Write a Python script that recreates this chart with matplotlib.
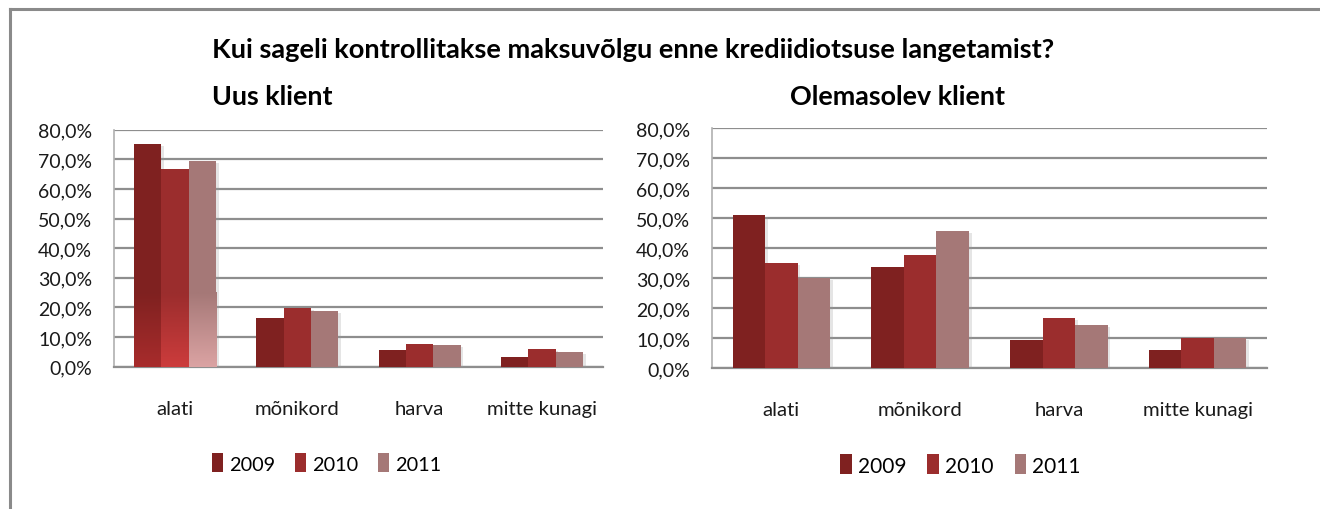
import numpy as np
import matplotlib
matplotlib.use("Agg")
import matplotlib.pyplot as plt
from matplotlib.patches import Patch
from matplotlib.colors import to_rgb
from matplotlib.ticker import FuncFormatter, MultipleLocator
import matplotlib.patheffects as pe

plt.rcParams.update({
    "font.family": ["Lato", "DejaVu Sans"],
    "font.size": 14,
    "figure.facecolor": "white",
    "axes.facecolor": "white",
})

title = "Kui sageli kontrollitakse maksuvõlgu enne krediidiotsuse langetamist?"
categories = ["alati", "mõnikord", "harva", "mitte kunagi"]
years = ["2009", "2010", "2011"]

# values, in percent
uus_2009 = [75.3, 16.5, 5.7, 3.4]
uus_2010 = [66.9, 19.9, 7.8, 6.1]
uus_2011 = [69.6, 18.9, 7.4, 5.1]
ole_2009 = [51.0, 33.7, 9.3, 6.0]
ole_2010 = [35.0, 37.7, 16.7, 10.0]
ole_2011 = [29.9, 45.7, 14.3, 10.0]

colors = ["#7f2120", "#9b2d2d", "#a57877"]
light = ["#a82c2c", "#cc3c3c", "#dba3a3"]
grid_c = "#8e8e8e"

W, H = 1320, 510
fig = plt.figure(figsize=(W / 100, H / 100), dpi=100)


def frac(x0, y0, x1, y1):
    return [x0 / W, 1 - y1 / H, (x1 - x0) / W, (y1 - y0) / H]


def gradient_bar(ax, bar, c_top, c_bot, level):
    # lighter fill towards the bottom of tall bars
    x = bar.get_x()
    w = bar.get_width()
    t = np.linspace(0, 1, 64)[:, None, None]
    a = np.array(to_rgb(c_bot))[None, None, :]
    b = np.array(to_rgb(c_top))[None, None, :]
    img = np.repeat(a * (1 - t) + b * t, 2, axis=1)
    im = ax.imshow(img, extent=[x, x + w, 0, level], origin="lower",
                   aspect="auto", zorder=3.5, interpolation="bilinear")
    im.set_clip_path(bar)


def draw(ax, series, bw, grad=False):
    x = np.arange(len(categories))
    for i, vals in enumerate(series):
        vals = np.array(vals) / 100
        bars = ax.bar(x + (i - 1) * bw, vals, bw, color=colors[i], zorder=3,
                      path_effects=[pe.SimplePatchShadow(offset=(2, -1.5), shadow_rgbFace="#9a9a9a", alpha=0.25),
                                    pe.Normal()])
        if grad:
            for b, v in zip(bars, vals):
                if v > 0.6:
                    gradient_bar(ax, b, colors[i], light[i], 0.25)
    ax.set_ylim(0, 0.8)
    ax.set_xlim(-0.5, len(categories) - 0.5)
    ax.yaxis.set_major_locator(MultipleLocator(0.1))
    ax.yaxis.set_major_formatter(FuncFormatter(lambda v, p: f"{v * 100:.1f}%".replace(".", ",")))
    ax.set_xticks(x)
    ax.set_xticklabels(categories)
    ax.grid(axis="y", color=grid_c, lw=1.6, zorder=1)
    ax.set_axisbelow(True)
    for s in ["top", "right"]:
        ax.spines[s].set_visible(False)
    ax.spines["left"].set_color("#b0b0b0")
    ax.spines["left"].set_linewidth(1.2)
    ax.spines["bottom"].set_color(grid_c)
    ax.spines["bottom"].set_linewidth(1.6)
    ax.tick_params(axis="both", length=0, colors="#1a1a1a")
    ax.tick_params(axis="x", pad=24, labelsize=14.6)
    ax.tick_params(axis="y", pad=15.8, labelsize=14)


ax1 = fig.add_axes(frac(114, 130.7, 603, 367.7))
draw(ax1, [uus_2009, uus_2010, uus_2011], 0.224, grad=True)
ax2 = fig.add_axes(frac(712, 129.3, 1267, 369))
draw(ax2, [ole_2009, ole_2010, ole_2011], 0.234)

fig.text(212 / W, 1 - 50 / H, title, fontsize=19.6, fontweight="bold", va="center", ha="left")
fig.text(212 / W, 1 - 97 / H, "Uus klient", fontsize=19.4, fontweight="bold", va="center", ha="left")
fig.text(790 / W, 1 - 97 / H, "Olemasolev klient", fontsize=19.4, fontweight="bold", va="center", ha="left")

handles = [Patch(facecolor=c, edgecolor="none") for c in colors]
for x0, y0, fs in [(202, 464, 14.3), (830, 466, 15)]:
    fig.legend(handles, years, loc="center left", bbox_to_anchor=(x0 / W, 1 - y0 / H),
               ncol=3, frameon=False, fontsize=fs, handlelength=0.55, handleheight=1.1,
               handletextpad=0.3, columnspacing=1.0, borderpad=0)

# outer frame (only top and left edges show in the crop)
fig.add_artist(plt.Line2D([9.5 / W, 9.5 / W], [0, 1 - 9.5 / H], color="#8a8a8a", lw=2.2))
fig.add_artist(plt.Line2D([9.5 / W, 1], [1 - 9.5 / H, 1 - 9.5 / H], color="#8a8a8a", lw=2.2))

fig.savefig("out.png", dpi=100)
